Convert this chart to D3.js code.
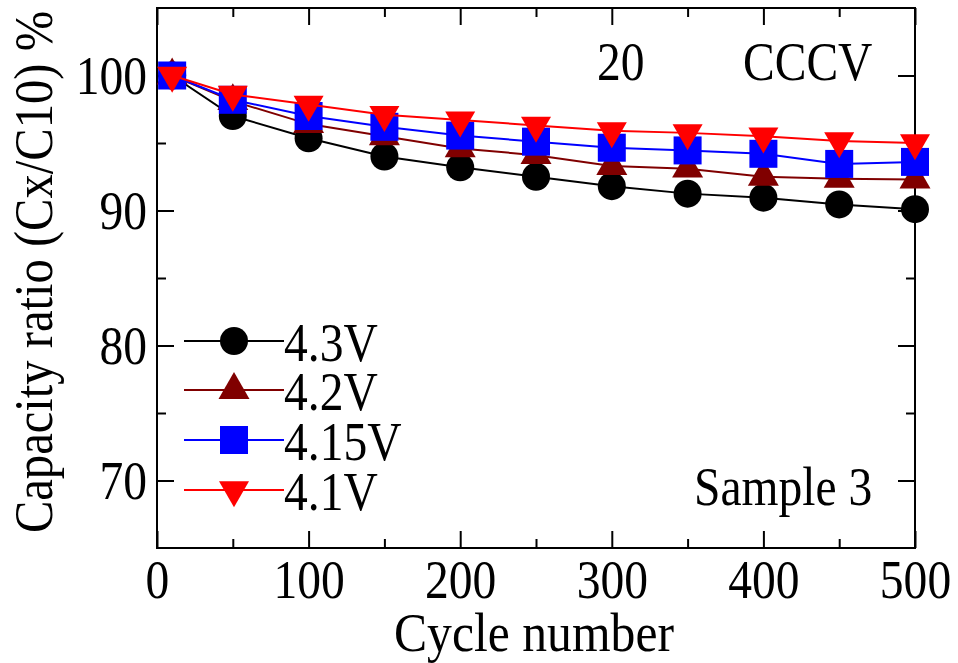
<!DOCTYPE html>
<html>
<head>
<meta charset="utf-8">
<script src="https://cdn.jsdelivr.net/npm/d3@7"></script>
<style>
  html, body { margin: 0; padding: 0; background: #fff; }
  svg { display: block; }
</style>
</head>
<body>
<script>
// datos
const cycles = [10, 50, 100, 150, 200, 250, 300, 350, 400, 450, 500];
const v43 = [100, 97.0, 95.35, 94.0, 93.2, 92.5, 91.8, 91.25, 90.95, 90.45, 90.1];
const v42 = [100, 98.1, 96.4, 95.5, 94.6, 94.1, 93.3, 93.1, 92.5, 92.35, 92.3];
const v415 = [100, 98.2, 97.0, 96.2, 95.55, 95.1, 94.65, 94.45, 94.2, 93.45, 93.6];
const v41 = [100, 98.6, 97.85, 97.1, 96.7, 96.3, 95.9, 95.75, 95.5, 95.15, 95.0];

const seriesNames = ['4.3V', '4.2V', '4.15V', '4.1V'];
const seriesValues = [v43, v42, v415, v41];
const xMajor = [0, 100, 200, 300, 400, 500];
const xMinor = [50, 150, 250, 350, 450];
const yMajor = [70, 80, 90, 100];
const yMinor = [75, 85, 95];

const W = 958, H = 663;
const pLeft = 157, pTop = 8, pRight = 915, pBottom = 548;
const sx = 0.88;      // el texto original sale algo comprimido en horizontal
const fs = 54;
const serif = "'Liberation Serif', 'Times New Roman', serif";

const colors = ['#000000', '#800000', '#0000ff', '#ff0000'];
const shapes = [
  d3.symbol().type(d3.symbolCircle).size(Math.PI * 14 * 14),
  d3.symbol().type(d3.symbolTriangle).size(416),
  d3.symbol().type(d3.symbolSquare).size(28 * 28),
  d3.symbol().type(d3.symbolTriangle).size(390)
];
const rotations = [0, 0, 0, 180];

const svg = d3.select('body').append('svg')
  .attr('width', W)
  .attr('height', H);

const x = d3.scaleLinear().domain([0, 500]).range([pLeft, pRight]);
const y = d3.scaleLinear().domain([65, 105]).range([pBottom, pTop]);

// ejes con ticks hacia dentro
function styleAxis(g) {
  g.select('.domain').remove();
  g.selectAll('line').attr('stroke', '#000').attr('stroke-width', 2);
}

svg.append('g').attr('transform', `translate(0,${pBottom})`)
  .call(d3.axisBottom(x).tickValues(xMajor).tickSizeInner(-17).tickSizeOuter(0).tickPadding(12).tickFormat(d3.format('d')))
  .call(styleAxis)
  .call(g => g.selectAll('text')
    .style('font-family', serif).style('font-size', fs + 'px').attr('fill', '#000')
    .attr('transform', `scale(${sx},1)`));
svg.append('g').attr('transform', `translate(0,${pBottom})`)
  .call(d3.axisBottom(x).tickValues(xMinor).tickSizeInner(-9).tickSizeOuter(0).tickFormat(''))
  .call(styleAxis);
svg.append('g').attr('transform', `translate(0,${pTop})`)
  .call(d3.axisTop(x).tickValues(xMajor).tickSizeInner(-17).tickSizeOuter(0).tickFormat(''))
  .call(styleAxis);
svg.append('g').attr('transform', `translate(0,${pTop})`)
  .call(d3.axisTop(x).tickValues(xMinor).tickSizeInner(-9).tickSizeOuter(0).tickFormat(''))
  .call(styleAxis);

svg.append('g').attr('transform', `translate(${pLeft},0)`)
  .call(d3.axisLeft(y).tickValues(yMajor).tickSizeInner(-17).tickSizeOuter(0).tickPadding(10).tickFormat(d3.format('d')))
  .call(styleAxis)
  .call(g => g.selectAll('text')
    .style('font-family', serif).style('font-size', fs + 'px').attr('fill', '#000')
    .attr('x', -10 / sx).attr('dy', '0.34em')
    .attr('transform', `scale(${sx},1)`));
svg.append('g').attr('transform', `translate(${pLeft},0)`)
  .call(d3.axisLeft(y).tickValues(yMinor).tickSizeInner(-9).tickSizeOuter(0).tickFormat(''))
  .call(styleAxis);
svg.append('g').attr('transform', `translate(${pRight},0)`)
  .call(d3.axisRight(y).tickValues(yMajor).tickSizeInner(-17).tickSizeOuter(0).tickFormat(''))
  .call(styleAxis);
svg.append('g').attr('transform', `translate(${pRight},0)`)
  .call(d3.axisRight(y).tickValues(yMinor).tickSizeInner(-9).tickSizeOuter(0).tickFormat(''))
  .call(styleAxis);

// marco
svg.append('rect')
  .attr('x', pLeft).attr('y', pTop)
  .attr('width', pRight - pLeft).attr('height', pBottom - pTop)
  .attr('fill', 'none').attr('stroke', '#000').attr('stroke-width', 2);

// series
const line = d3.line().x(d => x(d[0])).y(d => y(d[1]));
seriesValues.forEach((vals, i) => {
  const pts = cycles.map((c, j) => [c, vals[j]]);
  svg.append('path')
    .datum(pts)
    .attr('d', line)
    .attr('fill', 'none')
    .attr('stroke', colors[i])
    .attr('stroke-width', 2);
  svg.selectAll('.m' + i)
    .data(pts)
    .enter()
    .append('path')
    .attr('class', 'm' + i)
    .attr('d', shapes[i])
    .attr('transform', d => `translate(${x(d[0])},${y(d[1])}) rotate(${rotations[i]})`)
    .attr('fill', colors[i]);
});

function addText(sel, txt) {
  return sel.append('text')
    .style('font-family', serif)
    .style('font-size', fs + 'px')
    .attr('fill', '#000')
    .text(txt);
}

// leyenda
const legendY = [341, 390, 440, 490];
seriesNames.forEach((name, i) => {
  const g = svg.append('g').attr('transform', `translate(0,${legendY[i]})`);
  g.append('line')
    .attr('x1', 184).attr('x2', 284)
    .attr('y1', 0).attr('y2', 0)
    .attr('stroke', colors[i]).attr('stroke-width', 2);
  g.append('path')
    .attr('d', shapes[i])
    .attr('transform', `translate(234,0) rotate(${rotations[i]})`)
    .attr('fill', colors[i]);
  addText(g, name)
    .attr('x', 284 / sx).attr('y', 20)
    .attr('transform', `scale(${sx},1)`);
});

// anotaciones
function label(txt, lx, ly) {
  addText(svg, txt)
    .attr('x', lx / sx).attr('y', ly)
    .attr('transform', `scale(${sx},1)`);
}
label('20', 597, 80);
label('CCCV', 743, 80);
label('Sample 3', 694, 505);

// títulos de ejes
addText(svg, 'Cycle number')
  .attr('transform', `translate(${(pLeft + pRight) / 2 - 2},651) scale(0.92,1)`)
  .attr('text-anchor', 'middle');

addText(svg, 'Capacity ratio (Cx/C10) %')
  .attr('transform', `translate(52,272) rotate(-90) scale(0.9,1)`)
  .attr('text-anchor', 'middle');
</script>
</body>
</html>
